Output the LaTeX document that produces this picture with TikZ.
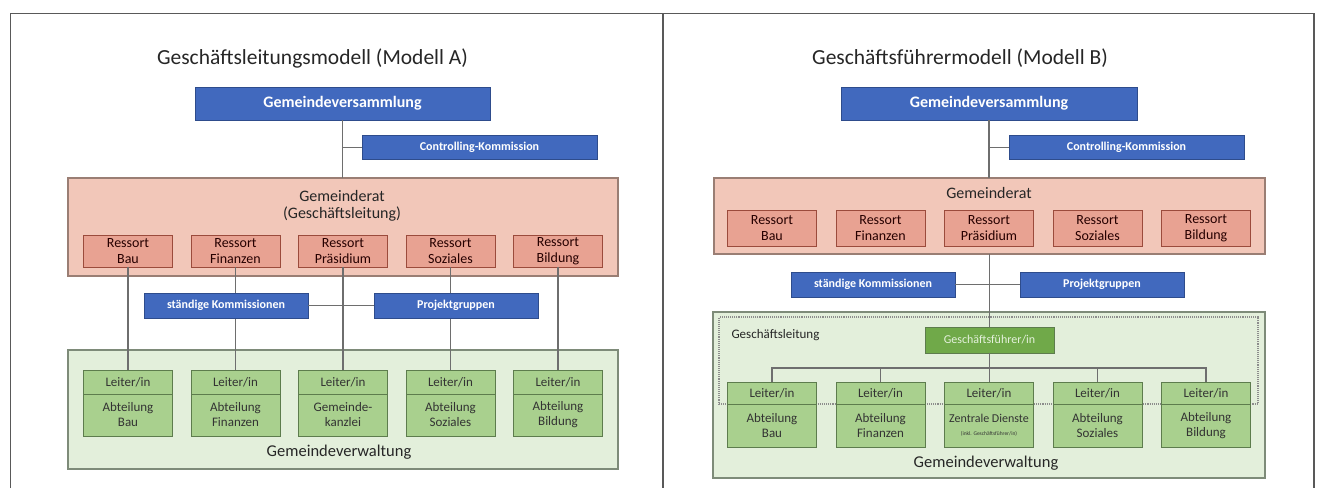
\documentclass[tikz,border=0pt]{standalone}
\usepackage{fontspec}
\setmainfont{Carlito}
\usetikzlibrary{positioning}
\definecolor{gvblue}{HTML}{4169BE}
\definecolor{gvline}{HTML}{2E4C8C}
\definecolor{ratfill}{HTML}{F2C7B9}
\definecolor{ratline}{HTML}{9A7E74}
\definecolor{ressfill}{HTML}{E8A292}
\definecolor{ressline}{HTML}{9B4B3C}
\definecolor{verwfill}{HTML}{E3EFDB}
\definecolor{verwline}{HTML}{7E8B79}
\definecolor{leitfill}{HTML}{A9D08E}
\definecolor{leitline}{HTML}{5D7C4D}
\definecolor{gffill}{HTML}{70A949}
\definecolor{linkgray}{HTML}{6E6E6E}
\tikzset{
  blaubox/.style={draw=gvline,fill=gvblue,text=white,font=\bfseries\fontsize{12}{13}\selectfont,inner sep=0pt,outer sep=0pt,line width=0.8pt},
  ratbox/.style={draw=ratline,fill=ratfill,line width=1.1pt,inner sep=0pt,outer sep=0pt},
  verwbox/.style={draw=verwline,fill=verwfill,line width=1.1pt,inner sep=0pt,outer sep=0pt},
  ressbox/.style={draw=ressline,fill=ressfill,minimum width=89pt,minimum height=32pt,inner sep=0pt,outer sep=0pt,align=center,line width=0.9pt,font=\fontsize{14}{16}\selectfont,text=black!75!red!60!black},
  kopfbox/.style={draw=leitline,fill=leitfill,minimum width=89pt,minimum height=24pt,inner sep=0pt,outer sep=0pt,line width=0.9pt,font=\fontsize{13}{15}\selectfont,text=black!80},
  fussbox/.style={kopfbox,minimum height=42pt,align=center},
  link/.style={draw=linkgray,line width=1.2pt},
  titel/.style={font=\fontsize{21.5}{24}\selectfont,text=black!85},
  etikett/.style={font=\fontsize{16}{17}\selectfont,text=black!85,align=center},
  rahmen/.style={draw=black!65,line width=1.3pt}
}
\begin{document}
\begin{tikzpicture}[x=1pt,y=-1pt]
\useasboundingbox (0,0) rectangle (1328,488);
\draw[rahmen] (10.5,488) -- (10.5,13.5) -- (1314,13.5) -- (1314,488);\draw[rahmen] (663,13.5) -- (663,488);
% Modell A
\node[titel] (titelA) at (312.5,58) {Geschäftsleitungsmodell (Modell A)};
\node[blaubox,minimum width=295pt,minimum height=33pt,font=\bfseries\fontsize{16}{18}\selectfont] (gvA) at (342.5,103.5) {Gemeindeversammlung};
\node[blaubox,minimum width=235pt,minimum height=24pt] (ckA) at (479.5,147.5) {Controlling-Kommission};
\node[ratbox,minimum width=550pt,minimum height=98pt] (grA) at (343,227) {};
\node[etikett] (grtA) at (342,206) {Gemeinderat\\(Geschäftsleitung)};
\node[ressbox] (rbauA) at (128,251) {Ressort\\Bau};
\node[ressbox,right=18.5pt of rbauA] (rfinA) {Ressort\\Finanzen};
\node[ressbox,right=18.5pt of rfinA] (rpraA) {Ressort\\Präsidium};
\node[ressbox,right=18.5pt of rpraA] (rsozA) {Ressort\\Soziales};
\node[ressbox,right=18.5pt of rsozA] (rbilA) {Ressort\\Bildung};
\node[verwbox,minimum width=550pt,minimum height=119pt] (gwA) at (343,409.5) {};
\node[etikett,font=\fontsize{16.5}{18}\selectfont] (gwtA) at (339,452) {Gemeindeverwaltung};
\node[kopfbox] (lbauA) at (128,382) {Leiter/in};\node[fussbox,below=0pt of lbauA] (abauA) {Abteilung\\Bau};
\node[kopfbox,right=18.5pt of lbauA] (lfinA) {Leiter/in};\node[fussbox,below=0pt of lfinA] (afinA) {Abteilung\\Finanzen};
\node[kopfbox,right=18.5pt of lfinA] (lpraA) {Leiter/in};\node[fussbox,below=0pt of lpraA] (apraA) {Gemeinde-\\kanzlei};
\node[kopfbox,right=18.5pt of lpraA] (lsozA) {Leiter/in};\node[fussbox,below=0pt of lsozA] (asozA) {Abteilung\\Soziales};
\node[kopfbox,right=18.5pt of lsozA] (lbilA) {Leiter/in};\node[fussbox,below=0pt of lbilA] (abilA) {Abteilung\\Bildung};
\draw[link] (gvA.south) -- (gvA.south |- grA.north);\draw[link] (gvA.south |- ckA.west) -- (ckA.west);
\draw[link] (rbauA) -- (lbauA);\draw[link] (rfinA) -- (lfinA);\draw[link] (rpraA) -- (lpraA);
\draw[link] (rsozA) -- (lsozA);\draw[link] (rbilA) -- (lbilA);
\node[blaubox,minimum width=164pt,minimum height=25pt] (skA) at (226,305.5) {ständige Kommissionen};
\node[blaubox,minimum width=164pt,minimum height=25pt] (pgA) at (456,305.5) {Projektgruppen};
\draw[link] (skA) -- (pgA);
% Modell B
\node[titel] (titelB) at (960,58) {Geschäftsführermodell (Modell B)};
\node[blaubox,minimum width=296pt,minimum height=33pt,font=\bfseries\fontsize{16}{18}\selectfont] (gvB) at (989,103.5) {Gemeindeversammlung};
\node[blaubox,minimum width=235pt,minimum height=24pt] (ckB) at (1126.5,147.5) {Controlling-Kommission};
\node[ratbox,minimum width=551pt,minimum height=76pt] (grB) at (989.5,216) {};
\node[etikett] (grtB) at (989,193) {Gemeinderat};
\node[ressbox,minimum height=36pt] (rbauB) at (772,228) {Ressort\\Bau};
\node[ressbox,minimum height=36pt,right=19.5pt of rbauB] (rfinB) {Ressort\\Finanzen};
\node[ressbox,minimum height=36pt,right=19.5pt of rfinB] (rpraB) {Ressort\\Präsidium};
\node[ressbox,minimum height=36pt,right=19.5pt of rpraB] (rsozB) {Ressort\\Soziales};
\node[ressbox,minimum height=36pt,right=19.5pt of rsozB] (rbilB) {Ressort\\Bildung};
\node[verwbox,minimum width=552pt,minimum height=166pt] (gwB) at (989,395) {};
\node[etikett,font=\fontsize{16.5}{18}\selectfont] (gwtB) at (986,463) {Gemeindeverwaltung};
\node[draw=black!45,densely dotted,line width=1.1pt,minimum width=539pt,minimum height=87pt,inner sep=0pt] (glB) at (988.5,360.5) {};
\node[anchor=west,font=\fontsize{13}{15}\selectfont,text=black!85] (gltB) at (728,335) {Geschäftsleitung};
\node[draw=leitline,fill=gffill,text=white!70!leitfill,minimum width=129pt,minimum height=26pt,inner sep=0pt,outer sep=0pt,font=\fontsize{12}{13}\selectfont] (gfB) at (989.5,340) {Geschäftsführer/in};
\node[kopfbox,minimum height=22pt] (lbauB) at (772,393) {Leiter/in};\node[fussbox,minimum height=43pt,below=0pt of lbauB] (abauB) {Abteilung\\Bau};
\node[kopfbox,minimum height=22pt,right=19.5pt of lbauB] (lfinB) {Leiter/in};\node[fussbox,minimum height=43pt,below=0pt of lfinB] (afinB) {Abteilung\\Finanzen};
\node[kopfbox,minimum height=22pt,right=19.5pt of lfinB] (lzdB) {Leiter/in};\node[fussbox,minimum height=43pt,below=0pt of lzdB] (azdB) {{\fontsize{12}{13}\selectfont Zentrale Dienste}\\[-2pt]{\fontsize{5.5}{6}\selectfont (inkl. Geschäftsführer/in)}};
\node[kopfbox,minimum height=22pt,right=19.5pt of lzdB] (lsozB) {Leiter/in};\node[fussbox,minimum height=43pt,below=0pt of lsozB] (asozB) {Abteilung\\Soziales};
\node[kopfbox,minimum height=22pt,right=19.5pt of lsozB] (lbilB) {Leiter/in};\node[fussbox,minimum height=43pt,below=0pt of lbilB] (abilB) {Abteilung\\Bildung};
\coordinate (busB) at (989,368);
\draw[link] (gvB.south) -- (gvB.south |- grB.north);\draw[link] (gvB.south |- ckB.west) -- (ckB.west);
\draw[link] (grB.south -| gfB.north) -- (gfB.north);\draw[link] (gfB.south) -- (gfB.south |- lzdB.north);
\draw[link] (lbauB.north) |- (busB) -| (lbilB.north);
\draw[link] (lfinB.north) -- (lfinB.north |- busB);\draw[link] (lsozB.north) -- (lsozB.north |- busB);
\node[blaubox,minimum width=164pt,minimum height=25pt] (skB) at (873,284.5) {ständige Kommissionen};
\node[blaubox,minimum width=164pt,minimum height=25pt] (pgB) at (1102,284.5) {Projektgruppen};
\draw[link] (skB) -- (pgB);
\end{tikzpicture}
\end{document}
